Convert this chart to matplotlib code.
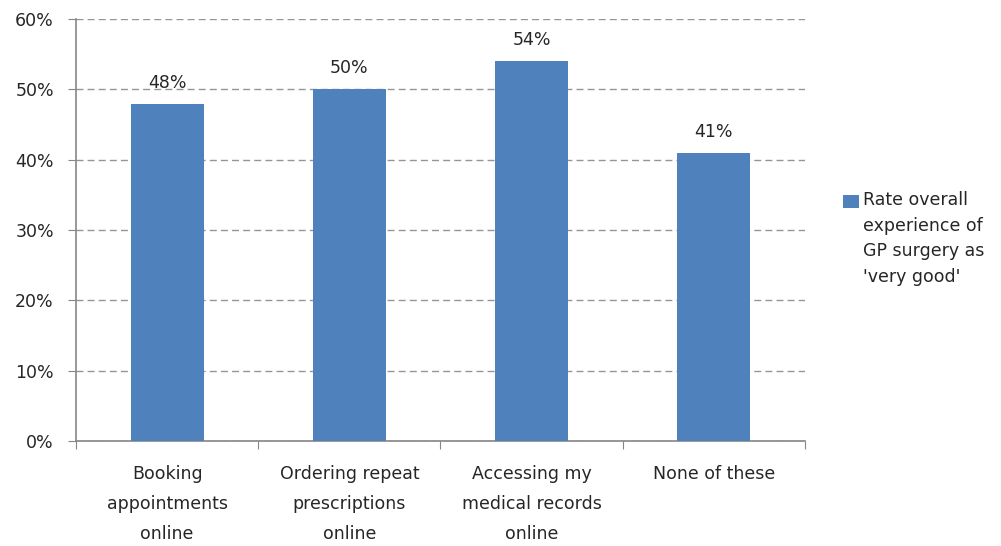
import matplotlib.pyplot as plt
from matplotlib.ticker import FuncFormatter, MultipleLocator
from matplotlib.patches import Rectangle

plt.rcParams['font.family'] = ['DejaVu Sans']

categories = ["Booking\nappointments\nonline",
              "Ordering repeat\nprescriptions\nonline",
              "Accessing my\nmedical records\nonline",
              "None of these"]
values = [48, 50, 54, 41]
series_name = "Rate overall\nexperience of\nGP surgery as\n'very good'"

bar_color = '#4F81BD'
axis_color = '#868686'
text_color = '#262626'
fs = 12.5

fig = plt.figure(figsize=(10.01, 5.46), dpi=100)
ax = fig.add_axes([0.076, 0.192, 0.728, 0.773])

x = range(len(categories))
ax.bar(x, values, width=0.4, color=bar_color, zorder=3, label=series_name)

for xi, v in zip(x, values):
    ax.text(xi, v + 1.7, f"{v}%", ha='center', va='bottom',
            fontsize=fs, color=text_color, zorder=4)

ax.set_xlim(-0.5, len(categories) - 0.5)
ax.set_ylim(0, 60)
ax.yaxis.set_major_locator(MultipleLocator(10))
ax.yaxis.set_major_formatter(FuncFormatter(lambda v, p: f"{v:.0f}%"))

# dashed horizontal gridlines
ax.grid(axis='y', color='#959595', linestyle=(0, (5, 3)), linewidth=1.0, zorder=1)

for side in ['top', 'right']:
    ax.spines[side].set_visible(False)
for side in ['left', 'bottom']:
    ax.spines[side].set_color(axis_color)
    ax.spines[side].set_linewidth(1.2)

# major ticks at category boundaries, labels on minor ticks at centres
ax.set_xticks([i - 0.5 for i in range(len(categories) + 1)])
ax.set_xticklabels([])
ax.set_xticks(list(x), minor=True)
ax.set_xticklabels(categories, minor=True, fontsize=fs, color=text_color,
                   linespacing=1.85)
ax.tick_params(axis='x', which='major', length=6, color=axis_color, direction='out')
ax.tick_params(axis='x', which='minor', length=0, pad=17)
ax.tick_params(axis='y', length=6, color=axis_color, direction='out',
               labelsize=fs, labelcolor=text_color, pad=10)

# legend: square key next to the first line of the series name
fig.patches.append(Rectangle((843 / 1001, 1 - 208 / 546), 16 / 1001, 13 / 546,
                             transform=fig.transFigure, facecolor=bar_color,
                             edgecolor='none'))
fig.text(863 / 1001, 1 - 191 / 546, series_name, ha='left', va='top',
         fontsize=fs, color=text_color, linespacing=1.55)

fig.savefig('out.png', dpi=100)
